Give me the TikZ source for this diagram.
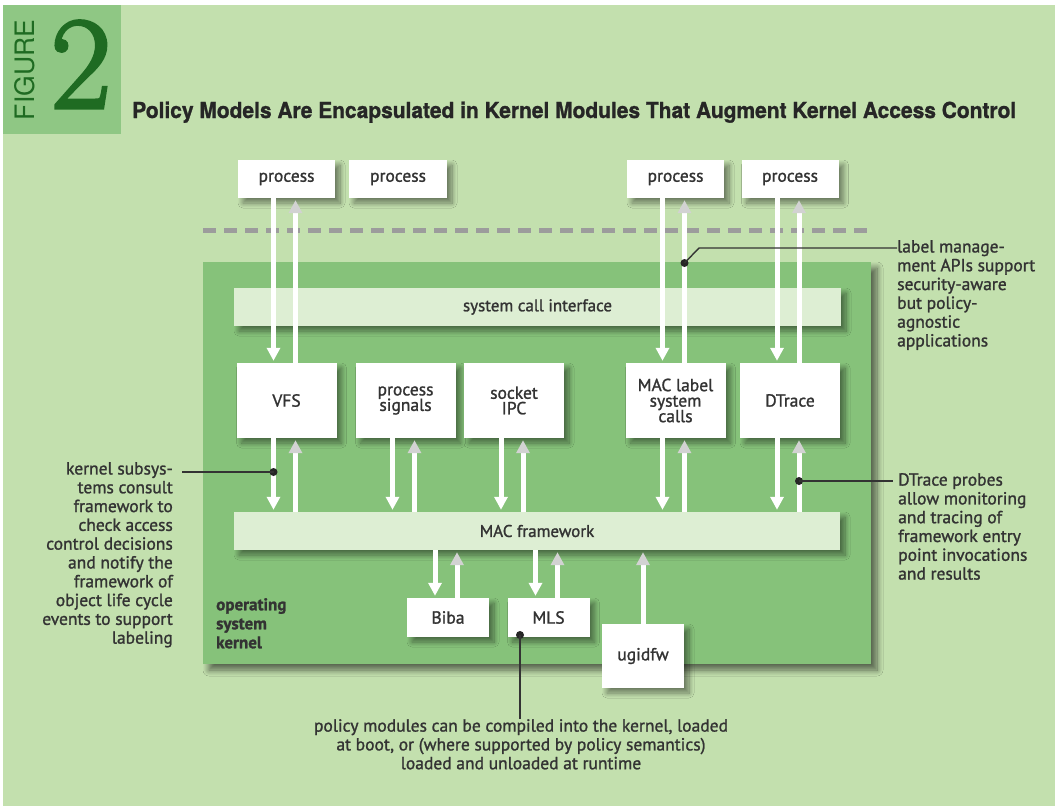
\documentclass[tikz,border=0pt]{standalone}
\usepackage{fontspec}
\usepackage{graphicx}
\setmainfont{PT Sans}[FakeBold=1.3]
\newfontfamily\headfont{TeX Gyre Heros}
\newfontfamily\heavyhead{TeX Gyre Heros}[FakeBold=1.2]
\newfontfamily\numfont{Latin Modern Roman}[FakeBold=2.5]
\usetikzlibrary{arrows.meta,shadows.blur,calc}

\definecolor{bgg}{HTML}{C3E0AE}
\definecolor{figg}{HTML}{8FC784}
\definecolor{kerng}{HTML}{86C27A}
\definecolor{barg}{HTML}{DDEED3}
\definecolor{darkg}{HTML}{1F6B22}
\definecolor{ink}{HTML}{333333}
\definecolor{dashg}{HTML}{9C9C9C}
\definecolor{tipg}{HTML}{D2D2D2}

\tikzset{
  softshadow/.style={blur shadow={shadow xshift=5pt, shadow yshift=-5pt,
      shadow blur radius=5pt, shadow opacity=45, shadow blur steps=10}},
  box/.style={fill=white, inner sep=0pt, text=ink, align=center,
      font=\fontsize{17.5}{18.5}\selectfont, softshadow},
  bar/.style={fill=barg, inner sep=0pt, text=ink,
      font=\fontsize{17}{18}\selectfont, softshadow},
  dn/.style={draw=white, line width=5pt, shorten >=2pt,
      -{Triangle[width=13pt,length=13pt]}},
  upar/.style={draw=white, line width=5pt, shorten >=2pt,
      -{Triangle[width=13pt,length=13pt,color=tipg]}},
  lead/.style={draw=ink, line width=1.4pt},
  leaddot/.style={circle, fill=black!85, inner sep=0pt, minimum size=8pt},
  note/.style={inner sep=0pt, text=ink, font=\fontsize{17.5}{18.8}\selectfont},
}

\begin{document}
\begin{tikzpicture}[x=1pt, y=-1pt]
  \useasboundingbox (0,0) rectangle (1057,808);
  \fill[white] (0,0) rectangle (1057,808);
  \fill[bgg] (3,5) rectangle (1055,806);

  % figure number block
  \fill[figg] (3,5) rectangle (121,134);
  \node[rotate=90, inner sep=0pt, text=darkg] (figword) at (25,70)
    {\resizebox{100pt}{20pt}{\headfont FIGURE}};
  \node[inner sep=0pt, text=darkg, anchor=base] (fignum) at (81,108)
    {\numfont\fontsize{132}{132}\selectfont 2};

  % title
  \node[inner sep=0pt, anchor=base west, text=black!85] (title) at (132,118)
    {\resizebox{884pt}{\height}{\heavyhead\bfseries\fontsize{22}{22}\selectfont
      Policy Models Are Encapsulated in Kernel Modules That Augment Kernel Access Control}};

  % kernel area
  \node[fill=kerng, minimum width=668pt, minimum height=402pt, inner sep=0pt,
        blur shadow={shadow xshift=6pt, shadow yshift=-6pt, shadow blur radius=6pt,
        shadow opacity=55, shadow blur steps=10}] (kern) at (537,463) {};
  \node[anchor=north west, inner sep=0pt, text=ink, align=left,
        font=\bfseries\fontsize{17}{19}\selectfont] (kname) at (216,598)
    {operating\\system\\kernel};

  % user/kernel boundary
  \coordinate (sepL) at (203,230);
  \coordinate (sepR) at (870,230);
  \draw[dashg, line width=5pt, dash pattern=on 13pt off 8pt] (sepL) -- (sepR);

  % processes
  \node[box, minimum width=97pt, minimum height=38pt] (p1) at (286.5,179) {process};
  \node[box, minimum width=98pt, minimum height=38pt] (p2) at (398,179) {process};
  \node[box, minimum width=97pt, minimum height=38pt] (p3) at (675.5,179) {process};
  \node[box, minimum width=97pt, minimum height=38pt] (p4) at (790,179) {process};

  % bars
  \node[bar, minimum width=607pt, minimum height=38pt] (sci) at (537.5,307) {system call interface};
  \node[bar, minimum width=606pt, minimum height=38pt] (macf) at (537,531) {MAC framework};

  % kernel subsystems
  \node[box, minimum width=100pt, minimum height=75pt] (vfs) at (286.5,400.5) {VFS};
  \node[box, minimum width=100pt, minimum height=75pt] (psig) at (405.5,400.5) {process\\[-3pt]signals};
  \node[box, minimum width=100pt, minimum height=75pt] (sock) at (514,400.5) {socket\\[-3pt]IPC};
  \node[box, minimum width=100pt, minimum height=75pt] (macl) at (675.5,400.5) {MAC label\\[-3pt]system\\[-3pt]calls};
  \node[box, minimum width=100pt, minimum height=75pt] (dtr) at (790,400.5) {DTrace};

  % policy modules
  \node[box, minimum width=82pt, minimum height=39pt] (biba) at (448,617.5) {Biba};
  \node[box, minimum width=82pt, minimum height=39pt] (mls) at (548.5,617.5) {MLS};
  \node[box, minimum width=82pt, minimum height=64pt] (ugid) at (643,656) {ugidfw};

  % process <-> subsystem arrows
  \draw[dn]   ([xshift=-13pt]p1.south) -- ([xshift=-13pt]vfs.north);
  \draw[upar] ([xshift=9pt]vfs.north)  -- ([xshift=9pt]p1.south);
  \draw[dn]   ([xshift=-13pt]p3.south) -- ([xshift=-13pt]macl.north);
  \draw[upar] ([xshift=9pt]macl.north) -- ([xshift=9pt]p3.south);
  \draw[dn]   ([xshift=-13pt]p4.south) -- ([xshift=-13pt]dtr.north);
  \draw[upar] ([xshift=9pt]dtr.north)  -- ([xshift=9pt]p4.south);

  % subsystem <-> framework arrows
  \foreach \s in {vfs,psig,sock,macl,dtr}{
    \draw[dn]   ([xshift=-13pt]\s.south) -- ([xshift=-13pt]\s.south |- macf.north);
    \draw[upar] ([xshift=9pt]\s.south |- macf.north) -- ([xshift=9pt]\s.south);
  }

  % framework <-> policy arrows
  \foreach \s in {biba,mls}{
    \draw[dn]   ([xshift=-13pt]\s.north |- macf.south) -- ([xshift=-13pt]\s.north);
    \draw[upar] ([xshift=9pt]\s.north) -- ([xshift=9pt]\s.north |- macf.south);
  }
  \draw[upar] (ugid.north) -- (ugid.north |- macf.south);

  % annotations
  \node[note, anchor=north west, align=left] (nlabel) at (897,240)
    {label manage-\\ment APIs support\\security-aware\\but policy-\\agnostic\\applications};
  \node[leaddot] (d1) at (684.5,263) {};
  \coordinate (k1) at (699,248);
  \draw[lead] (d1.center) -- (k1) -- (k1 -| nlabel.west);

  \node[note, anchor=north east, align=right] (nsub) at (173,462)
    {kernel subsys-\\tems consult\\framework to\\check access\\control decisions\\and notify the\\framework of\\object life cycle\\events to support\\labeling};
  \node[leaddot] (d2) at (273.5,472) {};
  \coordinate (k2) at (182,472);
  \draw[lead] (d2.center) -- (k2);

  \node[note, anchor=north west, align=left] (ndtr) at (898,473)
    {DTrace probes\\allow monitoring\\and tracing of\\framework entry\\point invocations\\and results};
  \node[leaddot] (d3) at (799,481) {};
  \coordinate (k3) at (893,481);
  \draw[lead] (d3.center) -- (k3);

  \node[note, anchor=north, align=center] (npol) at (521,719)
    {policy modules can be compiled into the kernel, loaded\\at boot, or (where supported by policy semantics)\\loaded and unloaded at runtime};
  \node[leaddot] (d4) at (520,635) {};
  \draw[lead] (d4.center) -- (d4.center |- npol.north);
\end{tikzpicture}
\end{document}
